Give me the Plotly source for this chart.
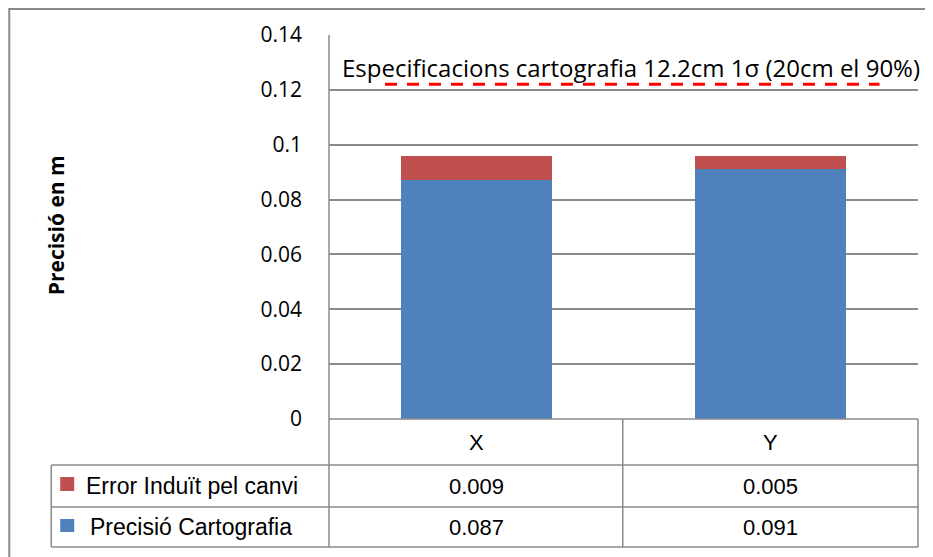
import plotly.graph_objects as go

# ---- data ----
categories = ["X", "Y"]
precisio = [0.087, 0.091]
error = [0.009, 0.005]
name_error = "Error Induït pel canvi"
name_precisio = "Precisió Cartografia"
spec_value = 0.122
spec_label = "Especificacions cartografia 12.2cm 1σ (20cm el 90%)"
y_ticks = [0, 0.02, 0.04, 0.06, 0.08, 0.1, 0.12, 0.14]
y_title = "Precisió en m"

BLUE = "#4F81BD"
RED = "#C0504D"
GRAY = "#8A8A8A"

# page has 8px body margin; reference coords are in page pixels
OFF = 8
VW, VH = 933, 557
W, H = VW - OFF, VH - OFF
L, R, T, B = 329, 918.5, 35, 419


def px(x):
    return (x - L) / (R - L)


def py(y):
    return (B - y) / (B - T)


fig = go.Figure()
fig.add_trace(go.Bar(x=categories, y=precisio, name=name_precisio,
                     marker=dict(color=BLUE, line=dict(width=0)), width=0.512))
fig.add_trace(go.Bar(x=categories, y=error, name=name_error,
                     marker=dict(color=RED, line=dict(width=0)), width=0.512))

shapes = []
line = dict(color=GRAY, width=1.5)


def hline(y, x0, x1):
    shapes.append(dict(type="line", xref="paper", yref="paper",
                       x0=px(x0), x1=px(x1), y0=py(y), y1=py(y), line=line))


def vline(x, y0, y1):
    shapes.append(dict(type="line", xref="paper", yref="paper",
                       x0=px(x), x1=px(x), y0=py(y0), y1=py(y1), line=line))


# outer chart border
shapes.append(dict(type="rect", xref="paper", yref="paper",
                   x0=px(9), x1=px(950), y0=py(9), y1=py(575),
                   line=dict(color=GRAY, width=2)))
# data table grid
hline(419, 329, 918.5)
hline(465, 51, 918.5)
hline(507, 51, 918.5)
hline(547, 51, 918.5)
vline(329, 35, 547)
vline(51, 465, 547)
vline(623, 419, 547)
vline(918.5, 419, 547)

# spec dashed line
shapes.append(dict(type="line", xref="paper", yref="y",
                   x0=px(385), x1=px(880), y0=spec_value, y1=spec_value,
                   line=dict(color="#FF0000", width=3, dash="12px,10px")))

# legend keys
shapes.append(dict(type="rect", xref="paper", yref="paper",
                   x0=px(60), x1=px(74), y0=py(477), y1=py(491),
                   fillcolor=RED, line=dict(width=0)))
shapes.append(dict(type="rect", xref="paper", yref="paper",
                   x0=px(60), x1=px(74), y0=py(519), y1=py(532),
                   fillcolor=BLUE, line=dict(width=0)))

vfont = dict(family="Liberation Sans, Arial, sans-serif", size=22, color="black")
lfont = dict(family="Liberation Sans, Arial, sans-serif", size=23, color="black")
annotations = []
# header + values
for i, c in enumerate(categories):
    annotations.append(dict(x=c, xref="x", y=py(442), yref="paper", text=c,
                            xanchor="center", yanchor="middle",
                            showarrow=False, font=vfont))
    annotations.append(dict(x=c, xref="x", y=py(486), yref="paper",
                            xanchor="center", yanchor="middle",
                            text=f"{error[i]:.3f}", showarrow=False, font=vfont))
    annotations.append(dict(x=c, xref="x", y=py(527), yref="paper",
                            xanchor="center", yanchor="middle",
                            text=f"{precisio[i]:.3f}", showarrow=False, font=vfont))
annotations.append(dict(x=px(84), xref="paper", y=py(486), yref="paper",
                        text=name_error, xanchor="left", yanchor="middle",
                        showarrow=False, font=lfont))
annotations.append(dict(x=px(88), xref="paper", y=py(527), yref="paper",
                        text=name_precisio, xanchor="left", yanchor="middle",
                        showarrow=False, font=lfont))
# spec label
annotations.append(dict(x=px(631), xref="paper", y=py(67), yref="paper",
                        text=spec_label, showarrow=False,
                        xanchor="center", yanchor="middle",
                        font=dict(family="Open Sans, sans-serif", size=24, color="black")))
# y title
annotations.append(dict(x=px(56), xref="paper", y=py(225), yref="paper",
                        text=f"<b>{y_title}</b>", textangle=-90, showarrow=False,
                        xanchor="center", yanchor="middle",
                        font=dict(family="Open Sans, sans-serif", size=21, color="black")))

fig.update_layout(
    width=W, height=H,
    margin=dict(l=L - OFF, r=VW - R, t=T - OFF, b=VH - B, pad=0),
    paper_bgcolor="white", plot_bgcolor="white",
    barmode="stack", showlegend=False,
    shapes=shapes, annotations=annotations,
    xaxis=dict(range=[-0.5, 1.5], showticklabels=False, showgrid=False,
               zeroline=False, showline=False, fixedrange=True),
    yaxis=dict(range=[0, 0.14], tickvals=y_ticks,
               ticktext=[f"{v:g}" for v in y_ticks],
               showgrid=True, gridcolor=GRAY, gridwidth=1.5,
               zeroline=False, showline=False, ticks="",
               ticklabelstandoff=26,
               tickfont=dict(family="Open Sans, sans-serif", size=21, color="black")),
)

fig.write_html("out.html")
